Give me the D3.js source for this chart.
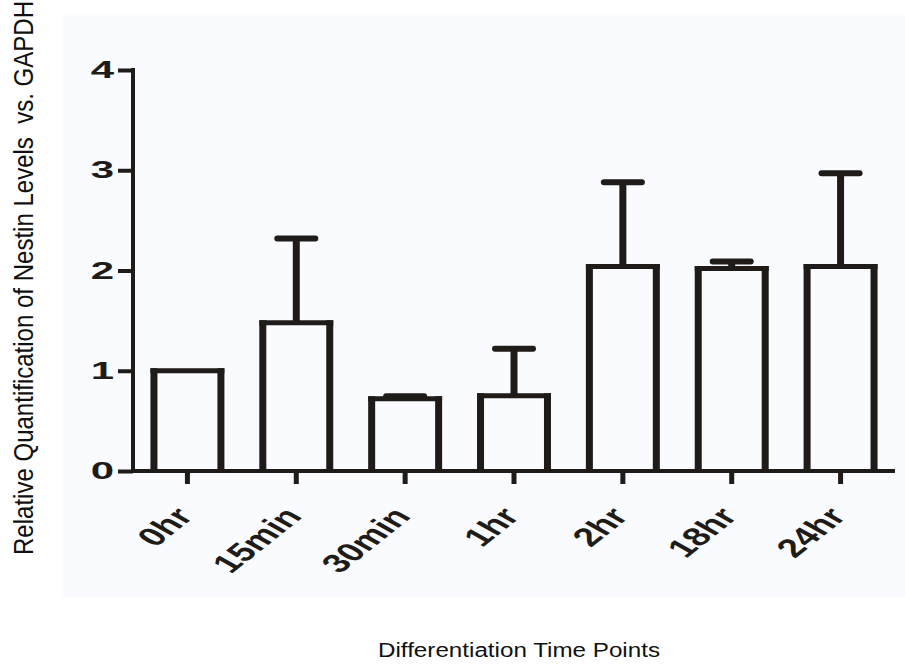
<!DOCTYPE html>
<html lang="en">
<head>
  <meta charset="UTF-8">
  <title>Nestin levels</title>
  <style>
    body { margin: 0; background: #fff; }
    .axis text { font: bold 24px "Liberation Sans", Arial, sans-serif; fill: #1e1b18; }
    .axis path, .axis line { fill: none; stroke: #1e1b18; stroke-width: 4; }
    .x.axis .tick line { stroke-width: 5; }
    .title { font-family: "Liberation Sans", Arial, sans-serif; fill: #111; }
  </style>
</head>
<body>
  <svg class="chart"></svg>
  <script src="https://cdn.jsdelivr.net/npm/d3@7"></script>
  <script>
    var categories = ["0hr", "15min", "30min", "1hr", "2hr", "18hr", "24hr"];
    var means = [1.0, 1.48, 0.72, 0.75, 2.04, 2.02, 2.04];
    var upper = [1.0, 2.32, 0.745, 1.22, 2.88, 2.09, 2.97];
    var yTicks = [0, 1, 2, 3, 4];

    var W = 905, H = 664;
    var plotL = 133, plotR = 895, plotT = 70, plotB = 471;
    var ink = "#1e1b18";

    var svg = d3.select(".chart").attr("width", W).attr("height", H);

    svg.append("rect")
      .attr("x", 63).attr("y", 14)
      .attr("width", W - 63).attr("height", 583)
      .attr("fill", "#f9fbfe");

    var x = d3.scaleBand()
      .domain(categories)
      .range([plotL, plotR])
      .paddingInner(0.385)
      .paddingOuter(0.1925);

    var y = d3.scaleLinear().domain([0, 4]).range([plotB, plotT]);

    var data = categories.map(function(c, i) {
      return {name: c, mean: means[i], up: upper[i]};
    });

    // error bars (upper only)
    var err = svg.append("g").attr("stroke", ink);
    data.filter(function(d) { return d.up > d.mean; }).forEach(function(d) {
      var cx = x(d.name) + x.bandwidth() / 2;
      err.append("line")
        .attr("stroke-width", 7)
        .attr("x1", cx).attr("x2", cx)
        .attr("y1", y(d.mean)).attr("y2", y(d.up));
      err.append("line")
        .attr("stroke-width", 6)
        .attr("x1", cx - 19).attr("x2", cx + 19)
        .attr("y1", y(d.up)).attr("y2", y(d.up))
        .attr("stroke-linecap", "round");
    });

    // open bars: thicker verticals, thinner top
    var bars = svg.append("g").selectAll("g")
      .data(data)
      .enter().append("g")
      .attr("stroke", ink);

    bars.append("path")
      .attr("fill", "none")
      .attr("stroke-width", 7)
      .attr("d", function(d) {
        var x0 = x(d.name), x1 = x0 + x.bandwidth();
        return "M" + x0 + "," + y(0) + "V" + (y(d.mean) - 2.5) +
               "M" + x1 + "," + y(0) + "V" + (y(d.mean) - 2.5);
      });

    bars.append("line")
      .attr("stroke-width", 5)
      .attr("x1", function(d) { return x(d.name) - 3.5; })
      .attr("x2", function(d) { return x(d.name) + x.bandwidth() + 3.5; })
      .attr("y1", function(d) { return y(d.mean); })
      .attr("y2", function(d) { return y(d.mean); });

    // y axis
    var yAxis = svg.append("g")
      .attr("class", "y axis")
      .attr("transform", "translate(" + plotL + ",0)")
      .call(d3.axisLeft(y).tickValues(yTicks).tickSize(15).tickFormat(d3.format("d")));
    yAxis.select(".domain").attr("d", "M0," + (plotT - 2) + "V" + plotB).attr("stroke-width", 5);
    yAxis.selectAll(".tick text")
      .attr("x", 0)
      .attr("transform", "translate(-19,0) scale(1.75,1)");

    // x axis
    var xAxis = svg.append("g")
      .attr("class", "x axis")
      .attr("transform", "translate(0," + plotB + ")")
      .call(d3.axisBottom(x).tickSize(13));
    xAxis.select(".domain").attr("d", "M" + plotL + ",0H" + plotR);
    xAxis.selectAll(".tick line").attr("y1", 2);
    xAxis.selectAll(".tick text")
      .attr("x", 0).attr("y", 0).attr("dy", 0)
      .attr("text-anchor", "end")
      .style("font-size", "26px")
      .attr("transform", "translate(7,46) scale(1.5,1) rotate(-50)");

    // titles
    svg.append("text")
      .attr("class", "title")
      .attr("transform", "translate(33,278) scale(1.35,1) rotate(-90)")
      .attr("text-anchor", "middle")
      .attr("font-size", 21)
      .attr("textLength", 554)
      .attr("lengthAdjust", "spacingAndGlyphs")
      .style("white-space", "pre")
      .text("Relative Quantification of Nestin Levels  vs. GAPDH");

    svg.append("text")
      .attr("class", "title")
      .attr("x", 519).attr("y", 657)
      .attr("text-anchor", "middle")
      .attr("font-size", 20)
      .attr("textLength", 282)
      .attr("lengthAdjust", "spacingAndGlyphs")
      .text("Differentiation Time Points");
  </script>
</body>
</html>
